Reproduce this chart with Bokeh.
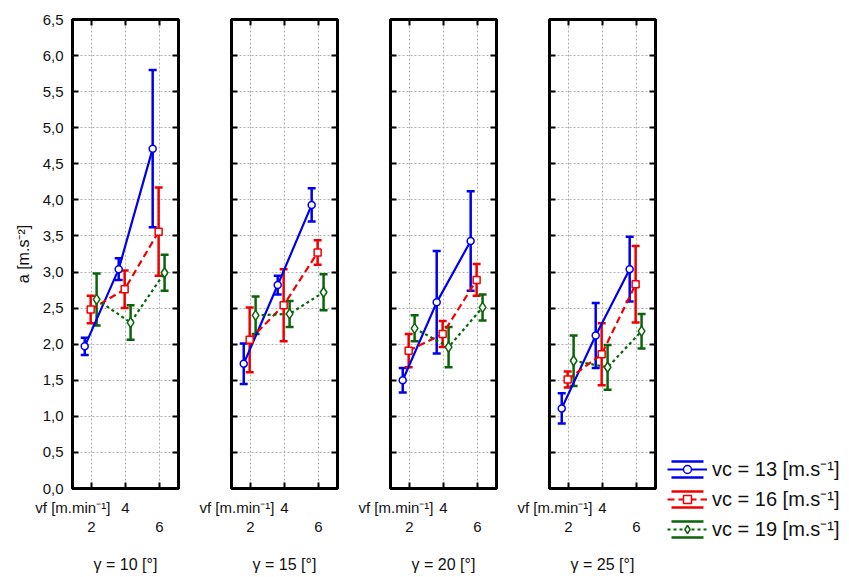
from bokeh.plotting import figure
from bokeh.layouts import row
from bokeh.models import (ColumnDataSource, Whisker, LinearAxis, FixedTicker, Grid,
                          Legend, LegendItem, TeeHead, Range1d, CustomJSTickFormatter)
from bokeh.embed import file_html
from bokeh.resources import INLINE

# ---------------- data ----------------
vf = [2, 4, 6]
panel_titles = ["γ = 10 [°]", "γ = 15 [°]", "γ = 20 [°]", "γ = 25 [°]"]
series_labels = ["vc = 13 [m.s⁻¹]", "vc = 16 [m.s⁻¹]", "vc = 19 [m.s⁻¹]"]

mean_vc13 = [[1.97, 3.04, 4.71], [1.73, 2.82, 3.93], [1.50, 2.58, 3.43], [1.11, 2.12, 3.04]]
err_vc13 = [[0.12, 0.15, 1.09], [0.28, 0.13, 0.23], [0.17, 0.71, 0.69], [0.21, 0.45, 0.45]]
mean_vc16 = [[2.48, 2.76, 3.56], [2.06, 2.54, 3.27], [1.91, 2.14, 2.89], [1.51, 1.86, 2.83]]
err_vc16 = [[0.19, 0.26, 0.61], [0.45, 0.50, 0.17], [0.23, 0.18, 0.22], [0.11, 0.43, 0.53]]
mean_vc19 = [[2.62, 2.30, 2.99], [2.40, 2.42, 2.72], [2.22, 1.96, 2.51], [1.77, 1.68, 2.18]]
err_vc19 = [[0.36, 0.24, 0.25], [0.26, 0.18, 0.25], [0.18, 0.28, 0.18], [0.35, 0.31, 0.24]]

y_ticks = [k * 0.5 for k in range(14)]
x_ticks = [2, 4, 6]
x_label_text = "vf [m.min⁻¹]"
y_label_text = "a [m.s⁻²]"

# ---------------- style ----------------
FONT = "Liberation Sans"
TXT = "#111111"
X0, X1 = 0.88, 7.12
styles = [
    dict(color="#0000f0", dash="solid", marker="circle", size=7, off=-0.40),
    dict(color="#f00000", dash="7 4", marker="square", size=7, off=-0.05),
    dict(color="#0a640a", dash="3 3", marker="diamond", size=10, off=0.30),
]
means = [mean_vc13, mean_vc16, mean_vc19]
errs = [err_vc13, err_vc16, err_vc19]

empty_fmt = CustomJSTickFormatter(code="return '';")
comma_fmt = CustomJSTickFormatter(code="return tick.toFixed(1).replace('.', ',');")


def series_source(s, i):
    st = styles[s]
    m = means[s][i]
    e = errs[s][i]
    xs = [v + st["off"] for v in vf]
    lo = [a - b for a, b in zip(m, e)]
    hi = [a + b for a, b in zip(m, e)]
    return ColumnDataSource(dict(x=xs, y=m, lo=lo, hi=hi,
                                 left=xs, right=xs, top=hi, bottom=lo))


figs = []
for i in range(4):
    first = i == 0
    last = i == 3
    p = figure(frame_width=106, frame_height=469,
               x_range=Range1d(X0, X1), y_range=Range1d(0, 6.5),
               output_backend="svg", toolbar_location=None,
               x_axis_location=None, y_axis_location=None,
               min_border_left=72 if first else 32,
               min_border_right=12 if last else 21,
               min_border_top=19, min_border_bottom=88)
    p.grid.visible = False
    p.outline_line_color = "black"
    p.outline_line_width = 3
    p.background_fill_color = "white"
    p.border_fill_color = "white"

    # grids
    p.add_layout(Grid(dimension=0, ticker=FixedTicker(ticks=x_ticks),
                      grid_line_color="#b0b0b0", grid_line_dash="2 2", grid_line_width=1))
    p.add_layout(Grid(dimension=1, ticker=FixedTicker(ticks=y_ticks),
                      grid_line_color="#b0b0b0", grid_line_dash="2 2", grid_line_width=1))

    # left axis
    left = LinearAxis(ticker=FixedTicker(ticks=y_ticks),
                      formatter=comma_fmt if first else empty_fmt,
                      major_tick_in=6, major_tick_out=0, minor_tick_in=0, minor_tick_out=0,
                      major_tick_line_width=2, axis_line_color=None,
                      major_label_standoff=9 if first else 0,
                      major_label_text_font=FONT,
                      major_label_text_font_size="15px" if first else "0px",
                      major_label_text_color=TXT)
    if first:
        left.axis_label = y_label_text
        left.axis_label_text_font = FONT
        left.axis_label_text_font_size = "16px"
        left.axis_label_text_font_style = "normal"
        left.axis_label_standoff = 8
        left.axis_label_text_color = TXT
    p.add_layout(left, "left")

    # right axis
    right = LinearAxis(ticker=FixedTicker(ticks=y_ticks), formatter=empty_fmt,
                       major_tick_in=6, major_tick_out=0, minor_tick_in=0, minor_tick_out=0,
                       major_tick_line_width=2, axis_line_color=None,
                       major_label_standoff=0, major_label_text_font_size="0px")
    p.add_layout(right, "right")

    # top axis
    top = LinearAxis(ticker=FixedTicker(ticks=x_ticks), formatter=empty_fmt,
                     major_tick_in=6, major_tick_out=0, minor_tick_in=0, minor_tick_out=0,
                     major_tick_line_width=2, axis_line_color=None,
                     major_label_standoff=0, major_label_text_font_size="0px")
    p.add_layout(top, "above")

    # bottom axis A: vf label and "4"; inward ticks at 2,4,6 drawn as minor ticks
    axA = LinearAxis(ticker=FixedTicker(ticks=[X0 + 0.02, 4], minor_ticks=x_ticks),
                     major_label_overrides={X0 + 0.02: x_label_text, 4: "4"},
                     major_tick_in=0, major_tick_out=0, minor_tick_in=6, minor_tick_out=0,
                     minor_tick_line_width=2, minor_tick_line_color="black",
                     axis_line_color=None, major_label_standoff=10,
                     major_label_text_font=FONT, major_label_text_font_size="15px",
                     major_label_text_color=TXT)
    p.add_layout(axA, "below")

    # bottom axis B: "2" and "6" + panel title
    axB = LinearAxis(ticker=FixedTicker(ticks=[2, 6]),
                     major_label_overrides={2: "2", 6: "6"},
                     major_tick_in=0, major_tick_out=0, minor_tick_in=0, minor_tick_out=0,
                     axis_line_color=None, major_label_standoff=3,
                     major_label_text_font=FONT, major_label_text_font_size="15px",
                     major_label_text_color=TXT,
                     axis_label=panel_titles[i], axis_label_text_font=FONT,
                     axis_label_text_font_size="16px", axis_label_text_font_style="normal",
                     axis_label_standoff=21, axis_label_text_color=TXT)
    p.add_layout(axB, "below")

    for s, st in enumerate(styles):
        src = series_source(s, i)
        w = Whisker(base="x", upper="hi", lower="lo", source=src, dimension="height",
                    line_color=st["color"], line_width=2.5, level="underlay",
                    upper_head=TeeHead(size=8, line_color=st["color"], line_width=2.5),
                    lower_head=TeeHead(size=8, line_color=st["color"], line_width=2.5))
        p.add_layout(w)
        p.line("x", "y", source=src, line_color=st["color"], line_width=2.2,
               line_dash=st["dash"])
        p.scatter("x", "y", source=src, marker=st["marker"], size=st["size"],
                  fill_color="white", line_color=st["color"], line_width=1.5)
    figs.append(p)

# ---------------- legend (own canvas to the right) ----------------
# The legend canvas shows a y-window below all data, so its renderers
# only contribute their legend icons.
lg = figure(frame_width=180, frame_height=523, x_range=Range1d(0, 1), y_range=Range1d(-2, -1),
            output_backend="svg", toolbar_location=None,
            x_axis_location=None, y_axis_location=None,
            min_border_left=0, min_border_right=0, min_border_top=19, min_border_bottom=34)
lg.grid.visible = False
lg.outline_line_color = None
lg.background_fill_color = "white"
lg.border_fill_color = "white"
legend_items = []
for s, st in enumerate(styles):
    src = series_source(s, 0)
    cr = lg.quad(left="left", right="right", top="top", bottom="bottom", source=src,
                 fill_color=None, line_color=st["color"], line_width=2.5, line_dash="32 16")
    lr = lg.line("x", "y", source=src, line_color=st["color"], line_width=2.2,
                 line_dash=st["dash"])
    sr = lg.scatter("x", "y", source=src, marker=st["marker"], size=st["size"],
                    fill_color="white", line_color=st["color"], line_width=1.5)
    legend_items.append(LegendItem(label=series_labels[s], renderers=[cr, lr, sr]))

legend = Legend(items=legend_items, location="bottom_left", glyph_width=40, glyph_height=20,
                label_text_font=FONT, label_text_font_size="20px",
                label_text_color=TXT, border_line_color=None,
                background_fill_alpha=0, spacing=3, padding=0, margin=0,
                label_standoff=5)
lg.add_layout(legend)
figs.append(lg)

layout = row(*figs)
open("out.html", "w").write(file_html(layout, INLINE))
